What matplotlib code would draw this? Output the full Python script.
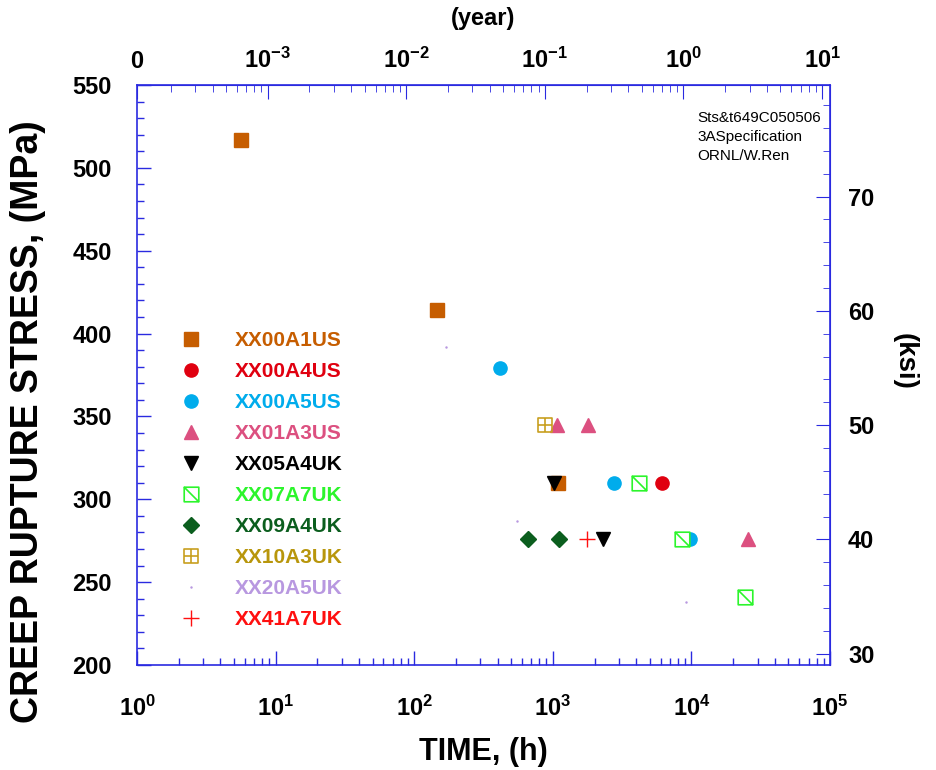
import matplotlib
matplotlib.use("Agg")
import matplotlib.pyplot as plt
from matplotlib.lines import Line2D
from matplotlib.path import Path
from matplotlib.ticker import FixedLocator, FixedFormatter, MultipleLocator, LogLocator, NullFormatter

plt.rcParams["font.family"] = ["Liberation Sans", "DejaVu Sans"]
plt.rcParams["mathtext.fontset"] = "custom"
plt.rcParams["mathtext.rm"] = "Liberation Sans:bold"
plt.rcParams["mathtext.bf"] = "Liberation Sans:bold"
plt.rcParams["mathtext.it"] = "Liberation Sans:bold"

# rupture time (h) and stress (MPa) per heat
names = ["XX00A1US", "XX00A4US", "XX00A5US", "XX01A3US", "XX05A4UK",
         "XX07A7UK", "XX09A4UK", "XX10A3UK", "XX20A5UK", "XX41A7UK"]
t_a1us = [5.6, 146, 1085]
s_a1us = [517, 414, 310]
t_a4us = [6110]
s_a4us = [310]
t_a5us = [416, 2780, 9780]
s_a5us = [379, 310, 276]
t_a3us = [1078, 1804, 25480]
s_a3us = [345, 345, 276]
t_a4uk = [1020, 2291]
s_a4uk = [310, 276]
t_a7uk = [4168, 8550, 24370]
s_a7uk = [310, 276, 241]
t_a4uk9 = [659, 1109]
s_a4uk9 = [276, 276]
t_a3uk = [879]
s_a3uk = [345]
t_a5uk = [170, 552, 9140]
s_a5uk = [392, 287, 238]
t_a7uk41 = [1757]
s_a7uk41 = [276]

times = [t_a1us, t_a4us, t_a5us, t_a3us, t_a4uk, t_a7uk, t_a4uk9, t_a3uk, t_a5uk, t_a7uk41]
stresses = [s_a1us, s_a4us, s_a5us, s_a3us, s_a4uk, s_a7uk, s_a4uk9, s_a3uk, s_a5uk, s_a7uk41]

ksi_major = [30, 40, 50, 60, 70]
ksi_minor = [32, 34, 36, 38, 42, 44, 46, 48, 52, 54, 56, 58, 62, 64, 66, 68, 72, 74, 76, 78]

MPA_PER_KSI = 6.894757
HOURS_PER_YEAR = 8760.0

box_x = Path([(-1, -1), (1, -1), (1, 1), (-1, 1), (-1, -1), (-1, 1), (1, -1)],
             [Path.MOVETO, Path.LINETO, Path.LINETO, Path.LINETO, Path.CLOSEPOLY,
              Path.MOVETO, Path.LINETO])
box_plus = Path([(-1, -1), (1, -1), (1, 1), (-1, 1), (-1, -1),
                 (0, -1), (0, 1), (-1, 0), (1, 0)],
                [Path.MOVETO, Path.LINETO, Path.LINETO, Path.LINETO, Path.CLOSEPOLY,
                 Path.MOVETO, Path.LINETO, Path.MOVETO, Path.LINETO])

styles = [
    dict(marker="s", ms=10.5, mfc="#c65d00", mec="#c65d00"),
    dict(marker="o", ms=9.5, mfc="#e00010", mec="#e00010"),
    dict(marker="o", ms=9.5, mfc="#00acec", mec="#00acec"),
    dict(marker="^", ms=10, mfc="#dc5080", mec="#dc5080"),
    dict(marker="v", ms=10, mfc="black", mec="black"),
    dict(marker=box_x, ms=10.5, mfc="white", mec="#2cf52c", mew=1.2),
    dict(marker="D", ms=8, mfc="#0b5e1e", mec="#0b5e1e"),
    dict(marker=box_plus, ms=10.5, mfc="none", mec="#c8a020", mew=1.2),
    dict(marker=".", ms=1.5, mfc="#b898e0", mec="#b898e0"),
    dict(marker="+", ms=11, mfc="#ff1010", mec="#ff1010", mew=1.0),
]
text_colors = ["#c65d00", "#e00010", "#00acec", "#dc5080", "black",
               "#2cf52c", "#0b5e1e", "#b8960c", "#b898e0", "#ff1010"]

axis_blue = "#2a2ae0"

fig = plt.figure(figsize=(9.36, 7.7), dpi=100)
ax = fig.add_axes([0.1464, 0.1364, 0.7404, 0.7532])

for t, s, st in zip(times, stresses, styles):
    ax.plot(t, s, linestyle="none", **st)

ax.set_xscale("log")
ax.set_xlim(1, 1e5)
ax.set_ylim(200, 550)

for sp in ax.spines.values():
    sp.set_color(axis_blue)
    sp.set_linewidth(1.2)

ax.xaxis.set_major_locator(FixedLocator([1, 10, 100, 1e3, 1e4, 1e5]))
ax.xaxis.set_major_formatter(FixedFormatter([r"$\mathbf{10^{%d}}$" % i for i in range(6)]))
ax.xaxis.set_minor_locator(LogLocator(base=10, subs=range(2, 10)))
ax.xaxis.set_minor_formatter(NullFormatter())
ax.yaxis.set_major_locator(MultipleLocator(50))
ax.yaxis.set_minor_locator(MultipleLocator(10))
ax.tick_params(which="both", direction="in", color=axis_blue, top=False, right=False)
ax.tick_params(which="major", length=10, width=1.0, pad=18, labelsize=17)
ax.tick_params(axis="x", which="major", pad=22)
ax.tick_params(which="minor", length=5, width=1.0)
for lab in ax.get_yticklabels():
    lab.set_fontweight("bold")

ax.set_xlabel("TIME, (h)", fontsize=22, fontweight="bold", labelpad=12)
fig.text(28 / 936, 1 - 422 / 770, "CREEP RUPTURE STRESS, (MPa)", fontsize=27,
         fontweight="bold", rotation=90, ha="center", va="center")

# top axis in years
top = ax.secondary_xaxis("top", functions=(lambda h: h / HOURS_PER_YEAR,
                                           lambda y: y * HOURS_PER_YEAR))
top_ticks = [1 / HOURS_PER_YEAR, 1e-3, 1e-2, 1e-1, 1, 10]
top.xaxis.set_major_locator(FixedLocator(top_ticks))
top.xaxis.set_major_formatter(FixedFormatter(["0"] + [r"$\mathbf{10^{%d}}$" % i for i in range(-3, 2)]))
top.xaxis.set_minor_locator(LogLocator(base=10, subs=range(2, 10)))
top.xaxis.set_minor_formatter(NullFormatter())
top.spines["top"].set_color(axis_blue)
top.tick_params(which="both", direction="in", color=axis_blue)
top.tick_params(which="major", length=10, pad=9, labelsize=17)
top.tick_params(which="minor", length=5)
for lab in top.get_xticklabels():
    lab.set_fontweight("bold")
top.set_xlabel("(year)", fontsize=17, fontweight="bold", labelpad=16)

# right axis in ksi
right = ax.secondary_yaxis("right", functions=(lambda m: m / MPA_PER_KSI,
                                               lambda k: k * MPA_PER_KSI))
right.yaxis.set_major_locator(FixedLocator(ksi_major))
right.yaxis.set_minor_locator(FixedLocator(ksi_minor))
right.spines["right"].set_color(axis_blue)
right.tick_params(which="both", direction="in", color=axis_blue)
right.tick_params(which="major", length=10, pad=13, labelsize=17)
right.tick_params(which="minor", length=5)
for lab in right.get_yticklabels():
    lab.set_fontweight("bold")
fig.text(905 / 936, 1 - 361 / 770, "(ksi)", fontsize=20, fontweight="bold",
         rotation=270, ha="center", va="center")

ax.text(0.808, 0.955, "Sts&t649C050506\n3ASpecification\nORNL/W.Ren",
        transform=ax.transAxes, fontsize=11, va="top", ha="left", linespacing=1.45)

handles = [Line2D([], [], linestyle="none", **st) for st in styles]
leg = ax.legend(handles, names, loc="upper left", bbox_to_anchor=(0.051, 0.59),
                frameon=False, fontsize=15, labelspacing=0.575, handletextpad=1.6,
                handlelength=1.0, borderaxespad=0)
for txt, c in zip(leg.get_texts(), text_colors):
    txt.set_color(c)
    txt.set_fontweight("bold")

fig.savefig("out.png", dpi=100)
